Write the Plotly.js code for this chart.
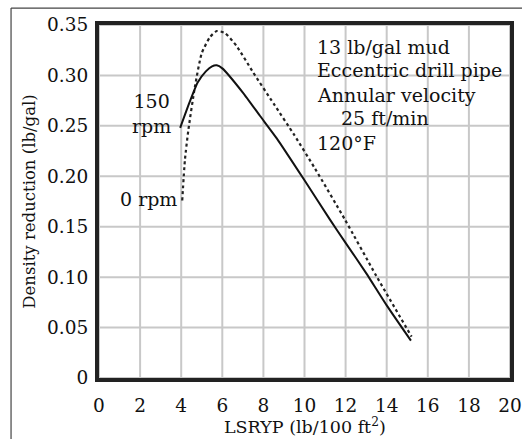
<!DOCTYPE html>
<html>
<head>
<meta charset="utf-8">
<script src="https://cdn.plot.ly/plotly-3.0.1.min.js"></script>
<style>html,body{margin:0;padding:0;background:#fff;}#chart{width:522px;height:439px;}</style>
</head>
<body>
<div id="chart"></div>
<script>
// 150 rpm (solid)
const rpm150_x = [3.95, 4.4, 4.8, 5.2, 5.5, 5.73, 6.0, 7.0, 7.83, 8.65, 10.0, 11.24, 12.0, 13.0, 14.0, 15.18];
const rpm150_y = [0.248, 0.273, 0.293, 0.304, 0.309, 0.310, 0.307, 0.283, 0.260, 0.2376, 0.196, 0.157, 0.134, 0.104, 0.072, 0.037];
// 0 rpm (dotted)
const rpm0_x = [4.05, 4.18, 4.35, 4.67, 5.0, 5.4, 5.73, 6.13, 6.7, 7.5, 8.5, 9.5, 10.5, 11.97, 13.5, 15.21];
const rpm0_y = [0.176, 0.216, 0.246, 0.289, 0.322, 0.338, 0.344, 0.342, 0.329, 0.303, 0.272, 0.241, 0.208, 0.157, 0.101, 0.041];

const xTicks = [0, 2, 4, 6, 8, 10, 12, 14, 16, 18, 20];
const yTicks = [0, 0.05, 0.10, 0.15, 0.20, 0.25, 0.30, 0.35];
const yTickText = ["0", "0.05", "0.10", "0.15", "0.20", "0.25", "0.30", "0.35"];
const noteLines = ["13 lb/gal mud", "Eccentric drill pipe", "Annular velocity", "25 ft/min", "120°F"];
const xTitle = "LSRYP (lb/100 ft<sup>2</sup>)";
const yTitle = "Density reduction (lb/gal)";

const FONT = "DejaVu Serif, serif";
const TXT = "#111";
const GRID = "#c8c8c8";

// grid drawn as a background line trace, built from the tick arrays and axis ranges
const xMin = xTicks[0], xMax = xTicks[xTicks.length - 1];
const yMin = yTicks[0], yMax = yTicks[yTicks.length - 1];
const gx = [], gy = [];
xTicks.forEach(v => { gx.push(v, v, null); gy.push(yMin, yMax, null); });
yTicks.forEach(v => { gx.push(xMin, xMax, null); gy.push(v, v, null); });

const traces = [
  {x: gx, y: gy, mode: "lines", line: {color: GRID, width: 2}, connectgaps: false, hoverinfo: "skip"},
  {x: rpm0_x, y: rpm0_y, mode: "lines", line: {color: "#222", width: 2.2, dash: "dot", shape: "spline", smoothing: 0.6}, hoverinfo: "skip"},
  {x: rpm150_x, y: rpm150_y, mode: "lines", line: {color: "#111", width: 2, shape: "spline", smoothing: 0.5}, hoverinfo: "skip"}
];

const noteY = [0.328, 0.305, 0.2806, 0.2578, 0.233];
const noteX = [10.51, 10.51, 10.51, 11.68, 10.51];
const annotations = noteLines.map((t, i) => ({
  x: noteX[i], y: noteY[i], xref: "x", yref: "y", text: t, showarrow: false,
  xanchor: "left", yanchor: "middle", font: {family: FONT, size: 19, color: TXT}
}));
annotations.push({x: 2.55, y: 0.262, xref: "x", yref: "y", text: "150<br>rpm", showarrow: false,
  xanchor: "center", yanchor: "middle", align: "center", font: {family: FONT, size: 19, color: TXT}});
annotations.push({x: 3.87, y: 0.177, xref: "x", yref: "y", text: "0 rpm", showarrow: false,
  xanchor: "right", yanchor: "middle", font: {family: FONT, size: 19, color: TXT}});
// axis titles
annotations.push({x: 0.5, y: -0.136, xref: "paper", yref: "paper", text: xTitle, showarrow: false,
  xanchor: "center", yanchor: "middle", font: {family: FONT, size: 17.5, color: TXT}});
annotations.push({x: -0.17, y: 0.5, xref: "paper", yref: "paper", text: yTitle, showarrow: false, textangle: -90,
  xanchor: "center", yanchor: "middle", font: {family: FONT, size: 16.5, color: TXT}});

// outer frame
const shapes = [
  {type: "line", xref: "paper", yref: "paper", x0: -0.214, x1: 1.1, y0: 1.048, y1: 1.048, line: {color: "#444", width: 1.2}},
  {type: "line", xref: "paper", yref: "paper", x0: -0.214, x1: -0.214, y0: 1.048, y1: -0.2, line: {color: "#444", width: 1.2}}
];

const layout = {
  width: 522, height: 439,
  margin: {l: 99, r: 12, t: 25, b: 61, pad: 0},
  paper_bgcolor: "#fff", plot_bgcolor: "#fff",
  showlegend: false,
  font: {family: FONT, size: 18, color: TXT},
  xaxis: {
    range: [xMin, xMax], tickvals: xTicks, ticktext: xTicks.map(String),
    showgrid: false,
    zeroline: false, showline: true, linecolor: "#222", linewidth: 4, mirror: true,
    ticks: "", ticklabelstandoff: 8, tickfont: {family: FONT, size: 18.5, color: TXT},
    automargin: false
  },
  yaxis: {
    range: [yMin, yMax], tickvals: yTicks, ticktext: yTickText,
    showgrid: false,
    zeroline: false, showline: true, linecolor: "#222", linewidth: 4, mirror: true,
    ticks: "", ticklabelstandoff: 3, tickfont: {family: FONT, size: 18.5, color: TXT},
    automargin: false
  },
  shapes: shapes,
  annotations: annotations
};

Plotly.newPlot("chart", traces, layout, {displayModeBar: false, staticPlot: true});
</script>
</body>
</html>
